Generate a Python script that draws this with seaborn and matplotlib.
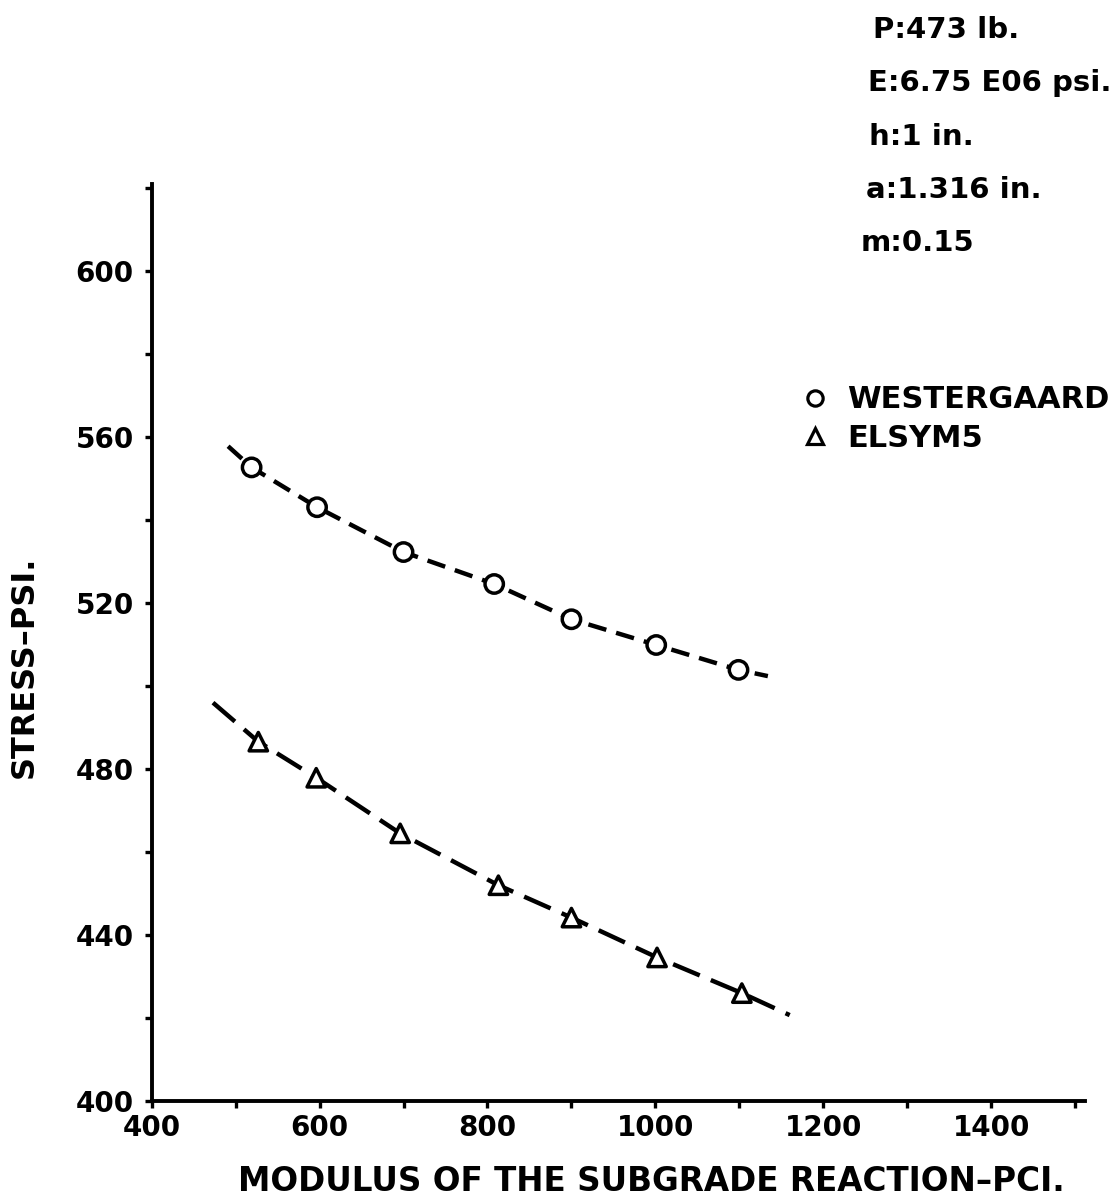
import numpy as np
import pandas as pd
import matplotlib
matplotlib.use('Agg')
import matplotlib.pyplot as plt
from matplotlib.lines import Line2D
from matplotlib.ticker import MultipleLocator
import seaborn as sns

# =============================================================================
# data
# =============================================================================
k_west = [519, 597, 700, 808, 900, 1001, 1099]
s_west = [552.7, 543.1, 532.3, 524.6, 516.1, 509.9, 503.9]

k_elsym = [527, 596, 696, 813, 900, 1002, 1103]
s_elsym = [486.6, 477.9, 464.5, 452.0, 444.2, 434.6, 426.0]

# dashed fit curves
curve_west_k = [491, 519, 597, 700, 808, 900, 1001, 1099, 1134]
curve_west_s = [557.8, 552.7, 543.1, 532.3, 524.6, 516.1, 509.9, 503.9, 502.4]
curve_elsym_k = [473, 527, 596, 696, 813, 900, 1002, 1103, 1160]
curve_elsym_s = [496.0, 486.6, 477.9, 464.5, 452.0, 444.2, 434.6, 426.0, 420.7]

params = ['P:473 lb.', 'E:6.75 E06 psi.', 'h:1 in.', 'a:1.316 in.', 'm:0.15']
methods = ['WESTERGAARD', 'ELSYM5']

pts = pd.DataFrame({
    'k': k_west + k_elsym,
    'stress': s_west + s_elsym,
    'method': [methods[0]] * len(k_west) + [methods[1]] * len(k_elsym),
})

# =============================================================================
# plot
# =============================================================================
sns.set_style('ticks')
plt.rcParams['font.family'] = ['DejaVu Sans']
plt.rcParams['font.weight'] = 'bold'
for key in ['text.color', 'axes.labelcolor', 'xtick.color', 'ytick.color',
            'axes.edgecolor']:
    plt.rcParams[key] = 'black'

W, H = 1117, 1201
fig = plt.figure(figsize=(W / 100, H / 100), dpi=100)
ax = fig.add_axes([151.7 / W, 100 / H, (1085.2 - 151.7) / W, (1101 - 184) / H])

sns.lineplot(x=curve_west_k, y=curve_west_s, ax=ax, color='black', lw=3.2,
             linestyle=(0, (4.2, 2.3)))
sns.lineplot(x=curve_elsym_k, y=curve_elsym_s, ax=ax, color='black', lw=3.2,
             linestyle=(0, (6.5, 2.7)))
sns.scatterplot(data=pts, x='k', y='stress', style='method',
                markers={'WESTERGAARD': 'o', 'ELSYM5': '^'},
                s=175, color='white', edgecolor='black', linewidth=2.5,
                legend=False, zorder=3, ax=ax)

ax.set_xlim(400, 1512)
ax.set_ylim(400, 621)
ax.xaxis.set_major_locator(MultipleLocator(200))
ax.xaxis.set_minor_locator(MultipleLocator(100))
ax.yaxis.set_major_locator(MultipleLocator(40))
ax.yaxis.set_minor_locator(MultipleLocator(20))
sns.despine(ax=ax)
for s in ['left', 'bottom']:
    ax.spines[s].set_linewidth(2.8)
ax.tick_params(which='both', direction='out', length=5, width=2.4)
ax.tick_params(axis='x', which='major', pad=4, labelsize=20)
ax.tick_params(axis='y', which='major', pad=8, labelsize=20)

ax.set_xlabel('MODULUS OF THE SUBGRADE REACTION\u2013PCI.', fontsize=23.5,
              fontweight='bold', labelpad=17, x=0.535)
ax.set_ylabel('STRESS\u2013PSI.', fontsize=23, fontweight='bold',
              labelpad=26, y=0.474)

# parameter block, top right
ys = [30, 83, 137, 190, 243]
xs = [873, 868, 869, 866, 861]
for t, x, y in zip(params, xs, ys):
    fig.text(x / W, 1 - y / H, t, fontsize=21, fontweight='bold',
             ha='left', va='center')

handles = [
    Line2D([], [], marker='o', ls='', mfc='white', mec='black', mew=2.3, ms=11),
    Line2D([], [], marker='^', ls='', mfc='white', mec='black', mew=2.3, ms=12),
]
ax.legend(handles, methods, loc='center left',
          bbox_to_anchor=(800 / W, 1 - 419 / H), bbox_transform=fig.transFigure,
          frameon=False, handlelength=1.0, handletextpad=0.55,
          borderpad=0, borderaxespad=0, labelspacing=0.3,
          prop={'weight': 'bold', 'size': 22})

fig.savefig('out.png', dpi=100)
